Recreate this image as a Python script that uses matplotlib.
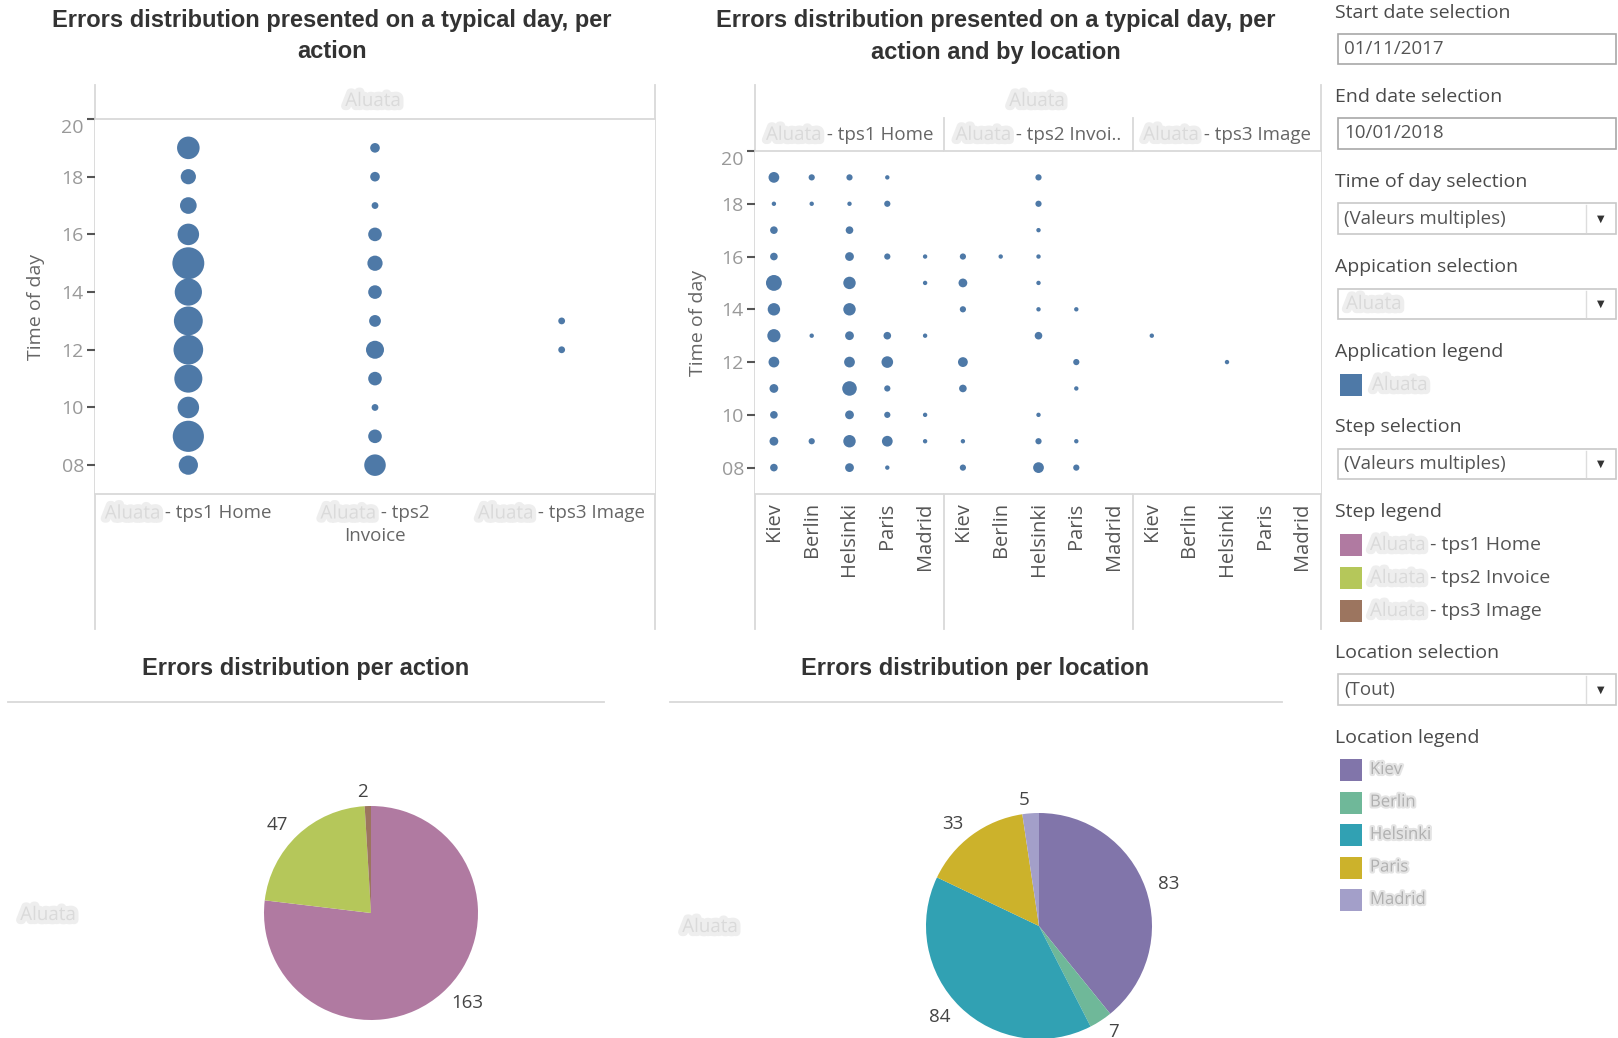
import matplotlib
matplotlib.use("Agg")
import matplotlib.pyplot as plt
import matplotlib.patheffects as pe
from matplotlib.offsetbox import TextArea, HPacker, VPacker, AnnotationBbox
from matplotlib.patches import Rectangle
import numpy as np

W, H = 1618, 1038

# ---- data ----
hours = list(range(8, 20))
hour_ticks = [8, 10, 12, 14, 16, 18, 20]
cities = ["Kiev", "Berlin", "Helsinki", "Paris", "Madrid"]
steps = ["tps1 Home", "tps2 Invoice", "tps3 Image"]
step_headers = ["tps1 Home", "tps2 Invoi..", "tps3 Image"]
app_name = "Aluata"

# errors per hour (08h .. 19h), one row per city (Kiev, Berlin, Helsinki, Paris, Madrid)
home_counts = [
    [3, 4, 3, 4, 6, 9, 8, 13, 3, 3, 1, 6],
    [0, 2, 0, 0, 0, 1, 0, 0, 0, 0, 1, 2],
    [4, 8, 4, 11, 6, 4, 8, 8, 4, 3, 1, 2],
    [1, 6, 2, 2, 7, 3, 0, 0, 2, 0, 2, 1],
    [0, 1, 1, 0, 0, 1, 0, 1, 1, 0, 0, 0],
]
invoice_counts = [
    [2, 1, 0, 3, 5, 0, 2, 4, 2, 0, 0, 0],
    [0, 0, 0, 0, 0, 0, 0, 0, 1, 0, 0, 0],
    [6, 2, 1, 0, 0, 3, 1, 1, 1, 1, 2, 2],
    [2, 1, 0, 1, 2, 0, 1, 0, 0, 0, 0, 0],
    [0, 0, 0, 0, 0, 0, 0, 0, 0, 0, 0, 0],
]
image_counts = [
    [0, 0, 0, 0, 0, 1, 0, 0, 0, 0, 0, 0],
    [0, 0, 0, 0, 0, 0, 0, 0, 0, 0, 0, 0],
    [0, 0, 0, 0, 1, 0, 0, 0, 0, 0, 0, 0],
    [0, 0, 0, 0, 0, 0, 0, 0, 0, 0, 0, 0],
    [0, 0, 0, 0, 0, 0, 0, 0, 0, 0, 0, 0],
]

action_totals = [163, 47, 2]
location_totals = [83, 7, 84, 33, 5]

step_colors = ["#b07aa1", "#b5c75a", "#9c755f"]
location_colors = ["#8175aa", "#6fb899", "#31a1b3", "#ccb22b", "#a39fc9"]

BLUE = "#4e79a7"
GRID = "#d9d9d9"
UI = ["Open Sans", "DejaVu Sans"]
TITLE = "Liberation Sans"
FS = 13.5

plt.rcParams["font.family"] = UI

all_counts = [np.array(home_counts), np.array(invoice_counts), np.array(image_counts)]


def rect(x0, y0, x1, y1):
    return [x0 / W, 1 - y1 / H, (x1 - x0) / W, (y1 - y0) / H]


BLUR = dict(color="#dadada", fontsize=FS, family=UI,
            path_effects=[pe.withStroke(linewidth=6, foreground="#eeeeee")])


def blurred(ax, x, y, s, **kw):
    ax.text(x, y, s, **BLUR, **kw)


def step_box(step, fs=FS, color="#666666"):
    return HPacker(children=[TextArea(app_name, textprops=BLUR),
                             TextArea(" - " + step, textprops=dict(color=color, fontsize=fs, family=UI))],
                   pad=0, sep=0, align="baseline")


def place(box, xy, coords, align=(0.5, 0.5)):
    ab = AnnotationBbox(box, xy, xycoords=coords, box_alignment=align,
                        frameon=False, pad=0, annotation_clip=False)
    fig.add_artist(ab)


fig = plt.figure(figsize=(W / 100, H / 100), dpi=100)

# overlay in pixel coordinates for frame lines and the filter panel
ov = fig.add_axes([0, 0, 1, 1])
ov.set_xlim(0, W)
ov.set_ylim(H, 0)
ov.axis("off")

TTL = dict(ha="center", va="center", fontsize=17, fontweight="bold", family=TITLE, color="#333333")

# ---- titles ----
for cx, lines in [(332, ["Errors distribution presented on a typical day, per", "action"]),
                  (996, ["Errors distribution presented on a typical day, per", "action and by location"])]:
    for k, line in enumerate(lines):
        ov.text(cx, 21 + 31 * k, line, **TTL)

# ---- panel 1 : errors per action ----
ax1 = fig.add_axes(rect(95, 119, 655, 494))
totals_by_step = [c.sum(axis=0) for c in all_counts]
for i, tot in enumerate(totals_by_step):
    ax1.scatter([i] * len(hours), hours, s=24 * tot, color=BLUE, linewidths=0)
ax1.set_xlim(-0.5, 2.5)
ax1.set_ylim(7, 20)
ax1.set_xticks([])
ax1.set_yticks(hour_ticks, [f"{h:02d}" for h in hour_ticks])
ax1.tick_params(axis="y", length=6, width=1.5, color="#555555", labelcolor="#999999",
                labelsize=14, pad=2)
ax1.get_yticklabels()[-1].set_va("top")
for sp in ["left", "right"]:
    ax1.spines[sp].set_visible(False)
for sp in ["top", "bottom"]:
    ax1.spines[sp].set_color(GRID)
    ax1.spines[sp].set_linewidth(1.3)
ax1.set_ylabel("Time of day", color="#666666", fontsize=14)
ax1.yaxis.set_label_coords(-0.09, 0.5)

xt = ax1.get_xaxis_transform()
place(step_box(steps[0]), (0, -0.028), xt, (0.5, 1))
place(VPacker(children=[step_box("tps2"), TextArea("Invoice", textprops=dict(color="#666666", fontsize=FS, family=UI))],
              pad=0, sep=3, align="center"), (1, -0.028), xt, (0.5, 1))
place(step_box(steps[2]), (2, -0.028), xt, (0.5, 1))
blurred(ov, 373, 101, app_name, ha="center", va="center")

# ---- panel 2 : errors per action and location ----
edges = [755, 944, 1133, 1321]
for j in range(3):
    ax = fig.add_axes(rect(edges[j], 151, edges[j + 1], 494))
    counts = all_counts[j]
    for c in range(len(cities)):
        ax.scatter([c] * len(hours), hours, s=10 * counts[c], color=BLUE, linewidths=0)
    ax.set_xlim(-0.5, len(cities) - 0.5)
    ax.set_ylim(7, 20)
    ax.set_xticks(range(len(cities)), cities, rotation=90)
    ax.tick_params(axis="x", length=0, pad=6, labelcolor="#555555", labelsize=14.5)
    for sp in ["left", "right"]:
        ax.spines[sp].set_visible(False)
    for sp in ["top", "bottom"]:
        ax.spines[sp].set_color(GRID)
        ax.spines[sp].set_linewidth(1.3)
    if j == 0:
        ax.set_yticks(hour_ticks, [f"{h:02d}" for h in hour_ticks])
        ax.tick_params(axis="y", length=6, width=1.5, color="#555555", labelcolor="#999999",
                       labelsize=14, pad=2)
        ax.get_yticklabels()[-1].set_va("top")
        ax.set_ylabel("Time of day", color="#666666", fontsize=14)
        ax.yaxis.set_label_coords(-0.255, 0.5)
    else:
        ax.set_yticks([])
    place(step_box(step_headers[j]), (0.5, 1.047), ax.transAxes)
blurred(ov, 1037, 101, app_name, ha="center", va="center")

# frame lines
for x in [95, 655, 755, 1321]:
    ov.plot([x, x], [85, 629], color=GRID, lw=1.3)
for x in [944, 1133]:
    ov.plot([x, x], [118, 629], color=GRID, lw=1.3)

# ---- pies ----
ov.text(306, 668, "Errors distribution per action", **TTL)
ov.text(975, 668, "Errors distribution per location", **TTL)
ov.plot([8, 604], [702, 702], color=GRID, lw=1.3)
ov.plot([670, 1282], [702, 702], color=GRID, lw=1.3)
blurred(ov, 48, 915, app_name, ha="center", va="center")
blurred(ov, 710, 927, app_name, ha="center", va="center")

axp1 = fig.add_axes(rect(264, 806, 478, 1020))
axp1.pie(action_totals, colors=step_colors, startangle=90, counterclock=False,
         labels=[str(v) for v in action_totals], labeldistance=1.13,
         textprops=dict(color="#444444", fontsize=13.5), wedgeprops=dict(linewidth=0))
axp1.set_xlim(-1, 1)
axp1.set_ylim(-1, 1)

axp2 = fig.add_axes(rect(926, 813, 1152, 1039))
axp2.pie(location_totals, colors=location_colors, startangle=90, counterclock=False,
         labels=[str(v) for v in location_totals], labeldistance=1.12,
         textprops=dict(color="#444444", fontsize=13.5), wedgeprops=dict(linewidth=0))
axp2.set_xlim(-1, 1)
axp2.set_ylim(-1, 1)

# ---- filter / legend panel ----
LBL = dict(fontsize=14, color="#4a4a4a", va="center", ha="left")


def input_box(y0, y1, text, dropdown=False, blur=False):
    ec = "#c8c8c8" if dropdown else "#a8a8a8"
    ov.add_patch(Rectangle((1338, y0), 278, y1 - y0, facecolor="white", edgecolor=ec, lw=1.2))
    ym = (y0 + y1) / 2
    if blur:
        blurred(ov, 1346, ym, text, va="center")
    else:
        ov.text(1344, ym, text, fontsize=13.5, color="#555555", va="center")
    if dropdown:
        ov.plot([1586, 1586], [y0 + 2, y1 - 2], color="#dddddd", lw=1)
        ov.text(1601, ym, "\u25bc", fontsize=7, color="#333333", ha="center", va="center",
                family="DejaVu Sans")


def swatch(y, color):
    ov.add_patch(Rectangle((1340, y - 11), 22, 22, facecolor=color, edgecolor="none"))


ov.text(1335, 13, "Start date selection", **LBL)
input_box(34, 64, "01/11/2017")
ov.text(1335, 97, "End date selection", **LBL)
input_box(118, 149, "10/01/2018")
ov.text(1335, 182, "Time of day selection", **LBL)
input_box(203, 234, "(Valeurs multiples)", dropdown=True)
ov.text(1335, 267, "Appication selection", **LBL)
input_box(289, 319, app_name, dropdown=True, blur=True)
ov.text(1335, 352, "Application legend", **LBL)
swatch(385, BLUE)
blurred(ov, 1372, 385, app_name, va="center")
ov.text(1335, 427, "Step selection", **LBL)
input_box(449, 479, "(Valeurs multiples)", dropdown=True)
ov.text(1335, 512, "Step legend", **LBL)
for k, (step, col) in enumerate(zip(steps, step_colors)):
    y = 545 + 33 * k
    swatch(y, col)
    place(step_box(step, fs=14, color="#555555"), (1370, y), ov.transData, (0, 0.5))
ov.text(1335, 653, "Location selection", **LBL)
input_box(674, 705, "(Tout)", dropdown=True)
ov.text(1335, 738, "Location legend", **LBL)
for k, (name, col) in enumerate(zip(cities, location_colors)):
    y = 770 + 32.5 * k
    swatch(y, col)
    ov.text(1370, y, name, fontsize=12, color="#b0b0b0", va="center",
            path_effects=[pe.withStroke(linewidth=3, foreground="#e4e4e4")])

fig.savefig("out.png", dpi=100, facecolor="white")
